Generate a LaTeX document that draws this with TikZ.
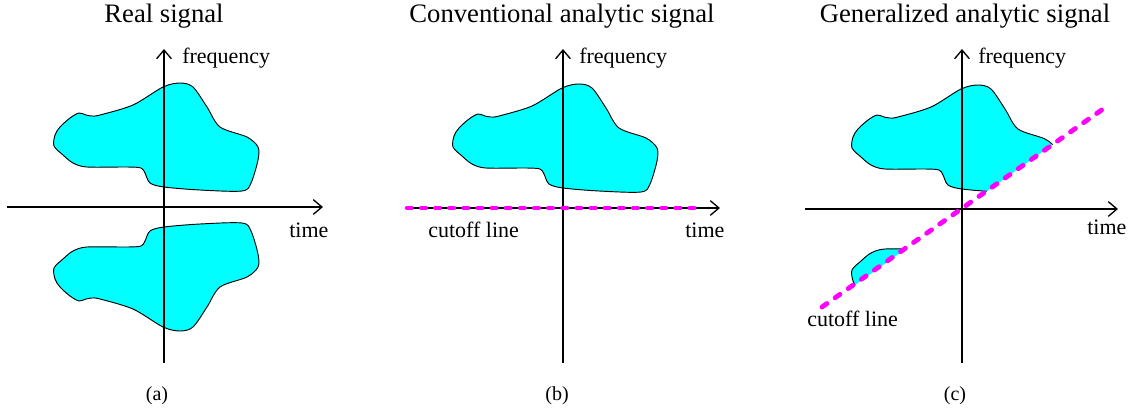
\documentclass[tikz,border=0pt]{standalone}
\usepackage{fontspec}
\setmainfont{Liberation Serif}
\usetikzlibrary{arrows.meta}
\definecolor{blobcyan}{HTML}{00FFFF}
\definecolor{cutmag}{HTML}{FF00FF}
\tikzset{
  axis/.style={line width=1pt,-{Straight Barb[length=6.5pt,width=11pt]}},
  blobline/.style={draw=black,line width=0.7pt,fill=blobcyan},
  cutb/.style={draw=cutmag,line width=3.4pt,line cap=round,dash pattern=on 3.4pt off 7.2pt},
  cutc/.style={draw=cutmag,line width=3.6pt,line cap=round,dash pattern=on 4.5pt off 7.5pt},
  title/.style={font=\fontsize{20}{24}\selectfont,anchor=base},
  lab/.style={font=\fontsize{16.5}{20}\selectfont,anchor=base west,inner sep=0pt},
  captext/.style={font=\fontsize{15}{18}\selectfont,anchor=base},
  blob/.pic={
    \path[blobline] plot[smooth cycle,tension=0.5] coordinates {
      (-110,-61) (-109,-72) (-104,-80) (-94,-89) (-85,-94) (-78,-92) (-72,-91)
      (-64,-92) (-31,-102) (-1,-120) (16,-124) (29,-120) (43,-100) (56,-80)
      (83,-70) (94,-60) (94,-47) (87,-24) (78,-16) (36,-17) (0,-20) (-14,-24)
      (-19,-34) (-23,-39) (-37,-40) (-77,-40) (-91,-44) (-101,-52)};
  }
}
\begin{document}
\begin{tikzpicture}[x=0.75pt,y=-0.75pt]
\useasboundingbox (0,0) rectangle (1128,411);

% ---------- panel (a) ----------
\coordinate (ao) at (164,207);
\pic at (ao) {blob};
\pic[yscale=-1] at (ao) {blob};
\coordinate (ab) at (164,363);
\coordinate (at) at (164,49);
\coordinate (al) at (7,207);
\coordinate (ar) at (323,207);
\draw[axis] (ab) -- (at);
\draw[axis] (al) -- (ar);
\node[title] (atitle) at (164,22) {Real signal};
\node[lab] (afreq) at (182,63) {frequency};
\node[lab] (atime) at (289,237) {time};
\node[captext] (acap) at (157,400) {(a)};

% ---------- panel (b) ----------
\coordinate (bo) at (563,208);
\pic at (bo) {blob};
\coordinate (bb) at (563,363);
\coordinate (bt) at (563,49);
\coordinate (bl) at (407,208);
\coordinate (br) at (720,208);
\coordinate (bce) at (702,208);
\draw[axis] (bb) -- (bt);
\draw[axis] (bl) -- (br);
\draw[cutb] (bl) -- (bce);
\node[title] (btitle) at (562,22) {Conventional analytic signal};
\node[lab] (bfreq) at (579,63) {frequency};
\node[lab] (btime) at (685,237) {time};
\node[lab] (bcut) at (428,237) {cutoff line};
\node[captext] (bcap) at (557,400) {(b)};

% ---------- panel (c) ----------
\coordinate (co) at (962,209);
\begin{scope}
  \clip (700,395) -- (1128,91) -- (1128,0) -- (700,0) -- cycle;
  \pic at (co) {blob};
  \pic[yscale=-1] at (co) {blob};
\end{scope}
\coordinate (cb) at (962,363);
\coordinate (ct) at (962,49);
\coordinate (cl) at (805,209);
\coordinate (cr) at (1118,209);
\coordinate (cs) at (822,307);
\coordinate (ce) at (1103,109);
\draw[axis] (cb) -- (ct);
\draw[axis] (cl) -- (cr);
\draw[cutc] (cs) -- (ce);
\node[title] (ctitle) at (965,22) {Generalized analytic signal};
\node[lab] (cfreq) at (978,63) {frequency};
\node[lab] (ctime) at (1087,234) {time};
\node[lab] (ccut) at (807,326) {cutoff line};
\node[captext] (ccap) at (955,400) {(c)};
\end{tikzpicture}
\end{document}
